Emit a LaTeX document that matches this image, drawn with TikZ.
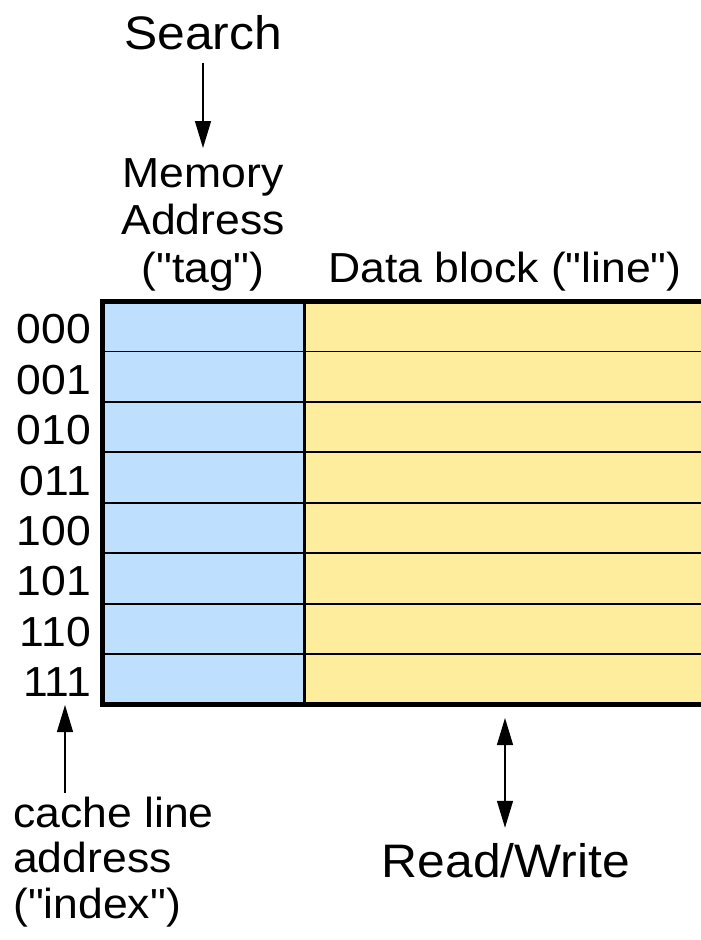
\documentclass[tikz,border=0pt]{standalone}
\usepackage{fontspec}
\setmainfont{Liberation Sans}[Ligatures=TeXOff, FakeStretch=1.06]
\usetikzlibrary{arrows.meta}
\definecolor{tagblue}{RGB}{191,223,255}
\definecolor{lineyellow}{RGB}{255,237,158}
\begin{document}
\begin{tikzpicture}[x=1pt,y=-1pt,
  txt/.style={inner sep=0pt, font=\fontsize{42}{47.5}\selectfont},
  idxtxt/.style={inner sep=0pt, font=\fontsize{42}{45.5}\selectfont, align=left},
  bigtxt/.style={inner sep=0pt, font=\fontsize{47}{52}\selectfont},
  tiphead/.tip={Triangle[length=27pt,width=16pt]},
  arr/.style={line width=1.3pt, -tiphead},
  darr/.style={line width=1.3pt, tiphead-tiphead},
  rowline/.style={line width=1.8pt},
]
\useasboundingbox (0,0) rectangle (701,940);
% table
\fill[tagblue] (102.5,301) rectangle (304.5,704.5);
\fill[lineyellow] (304.5,301) rectangle (712,704.5);
\foreach \i in {1,...,7} \draw[rowline] (102.5,{301+\i*50.44}) -- (712,{301+\i*50.44});
\draw[line width=3pt] (304.5,301) -- (304.5,704.5);
\draw[line width=5pt] (102.5,301) rectangle (712,704.5);
% row labels
\foreach \lab [count=\i] in {000,001,010,011,100,101,110,111}
  \node[txt, anchor=east] (r\lab) at (91,{301+(\i-0.5)*50.44+3}) {\lab};
% headings
\node[bigtxt, anchor=base] (search) at (203,49) {Search};
\node[txt, anchor=north, align=center] (tag) at (203,158) {Memory\\Address\\("tag")};
\node[txt, anchor=base] (data) at (505,282) {Data block ("line")};
\node[idxtxt, anchor=north west] (index) at (13,796.5) {cache line\\address\\("index")};
\node[bigtxt, anchor=base] (rw) at (506,877) {Read/Write};
% arrows
\draw[arr] ([yshift=-13pt]search.south) -- ([yshift=10pt]tag.north);
\coordinate (idxtip) at (65,705);
\draw[arr] ([yshift=4pt]idxtip |- index.north) -- (idxtip);
\coordinate (rwtop) at (505,718);
\draw[darr] (rwtop) -- ([yshift=15pt]rwtop |- rw.north);
\end{tikzpicture}
\end{document}
